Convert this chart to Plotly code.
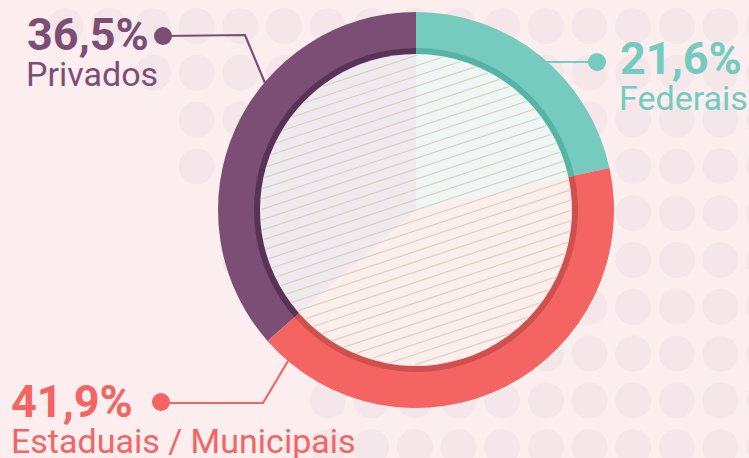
import math
import plotly.graph_objects as go

W, H = 749, 458

categories = ["Federais", "Estaduais / Municipais", "Privados"]
shares = [21.6, 41.9, 36.5]
pct_labels = ["21,6%", "41,9%", "36,5%"]

ring_colors = ["#74CBBE", "#F36463", "#7C4E75"]
band_colors = ["#57B3A5", "#CF504C", "#5B3257"]
inner_colors = ["#EEF7F5", "#FCEEEC", "#EFE9F0"]

BG = "#FCEEEF"
DOT = "#F5E7E9"

cx, cy = 416, 210
R_OUT, R_BAND, R_IN = 198, 162, 156


def px(x):
    return x / W


def py(y):
    return 1 - y / H


def dom(r):
    return dict(x=[px(cx - r), px(cx + r)], y=[py(cy + r), py(cy - r)])


fig = go.Figure()
common = dict(labels=categories, values=shares, sort=False, direction="clockwise",
              rotation=0, textinfo="none", hoverinfo="skip", showlegend=False)
fig.add_trace(go.Pie(**common, domain=dom(R_OUT), hole=(R_BAND - 1) / R_OUT,
                     marker=dict(colors=ring_colors, line=dict(width=0))))
fig.add_trace(go.Pie(**common, domain=dom(R_BAND), hole=(R_IN - 1) / R_BAND,
                     marker=dict(colors=band_colors, line=dict(width=0))))
fig.add_trace(go.Pie(**common, domain=dom(R_IN), hole=0,
                     marker=dict(colors=inner_colors, line=dict(width=0))))

shapes = []

# background dot pattern (fades out toward the lower left)
row_start = [-2, 0, 1, 1, 2, 2, 3, 4, 4, 4]
for r, c0 in enumerate(row_start):
    y = 26 + 46.8 * r
    for c in range(c0, 15):
        x = 153 + 43.65 * c
        shapes.append(dict(type="circle", xref="paper", yref="paper", layer="below",
                           x0=px(x - 18), x1=px(x + 18), y0=py(y + 18), y1=py(y - 18),
                           fillcolor=DOT, line=dict(width=0)))

# hatching on the inner pie
slope = -0.33
step = 10.3
n = int(2 * R_IN * math.sqrt(1 + slope ** 2) / step) + 2
ang = math.atan(slope)
nx, ny = -math.sin(ang), math.cos(ang)
for k in range(-n, n + 1):
    d = k * step * math.cos(ang)
    if abs(d) >= R_IN - 1:
        continue
    half = math.sqrt((R_IN - 1) ** 2 - d ** 2)
    mx, my = cx + nx * d, cy + ny * d
    ux, uy = math.cos(ang), math.sin(ang)
    shapes.append(dict(type="line", xref="paper", yref="paper", layer="above",
                       x0=px(mx - ux * half), y0=py(my - uy * half),
                       x1=px(mx + ux * half), y1=py(my + uy * half),
                       line=dict(color="#DCD3B9", width=1.2)))

# callout leader lines and dots
leaders = [
    ([(597, 62), (547, 62)], 597, 62, ring_colors[0]),
    ([(161, 403), (263, 403), (288, 361)], 161, 402, ring_colors[1]),
    ([(163, 36), (245, 35), (265, 83)], 163, 36, ring_colors[2]),
]
for pts, dx, dy, col in leaders:
    path = "M " + " L ".join(f"{px(x)},{py(y)}" for x, y in pts)
    shapes.append(dict(type="path", xref="paper", yref="paper", path=path,
                       line=dict(color=col, width=2.2), layer="above"))
    shapes.append(dict(type="circle", xref="paper", yref="paper", layer="above",
                       x0=px(dx - 9), x1=px(dx + 9), y0=py(dy + 9), y1=py(dy - 9),
                       fillcolor=col, line=dict(width=0)))

# labels: (percent x, percent baseline, label x, label baseline)
label_pos = [(619, 74, 618, 110), (10, 417, 10, 453), (26, 50, 25, 86)]
PCT_SIZE, LBL_SIZE = 45, 34
annotations = []
for i, (x1, b1, x2, b2) in enumerate(label_pos):
    annotations.append(dict(x=px(x1), y=py(b1 - 0.342 * PCT_SIZE), xref="paper", yref="paper",
                            text=f"<b>{pct_labels[i]}</b>", showarrow=False,
                            xanchor="left", yanchor="middle", borderpad=0,
                            font=dict(family="Roboto", size=PCT_SIZE, color=ring_colors[i])))
    annotations.append(dict(x=px(x2), y=py(b2 - 0.342 * LBL_SIZE), xref="paper", yref="paper",
                            text=categories[i], showarrow=False,
                            xanchor="left", yanchor="middle", borderpad=0,
                            font=dict(family="Roboto", size=LBL_SIZE, color=ring_colors[i])))

fig.update_layout(width=W, height=H, margin=dict(l=0, r=0, t=0, b=0),
                  paper_bgcolor=BG, plot_bgcolor=BG, shapes=shapes,
                  annotations=annotations)
fig.write_html("out.html", config={"displayModeBar": False},
               post_script="document.body.style.margin='0';"
                           "document.body.style.background='" + BG + "';")
